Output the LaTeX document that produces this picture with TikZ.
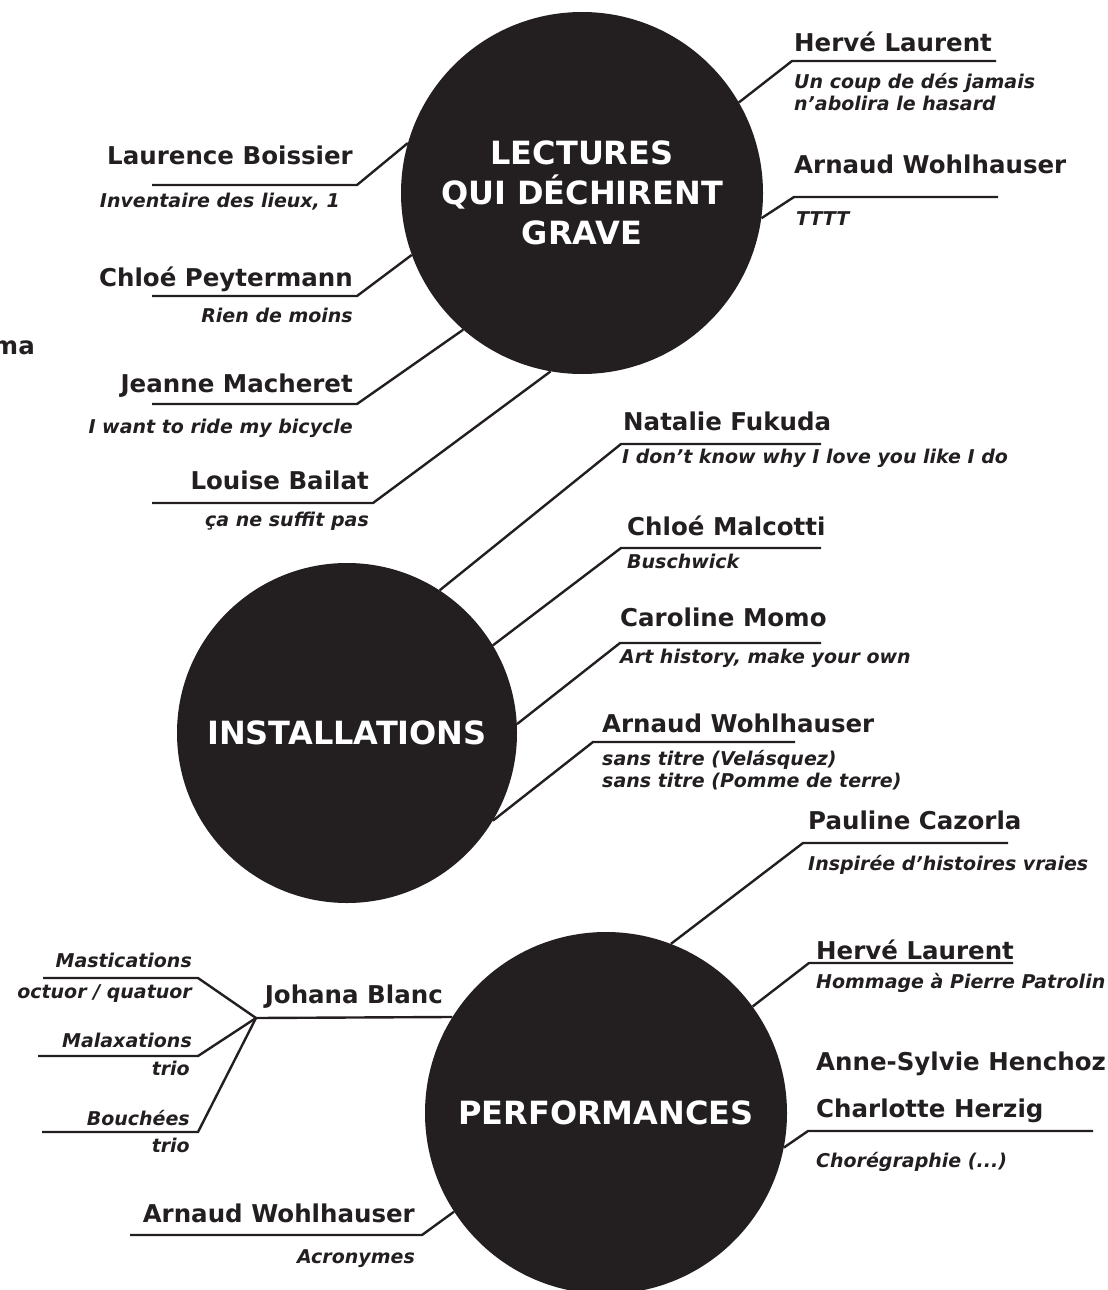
\documentclass[tikz,border=0pt]{standalone}
\usepackage{fontspec}
\setmainfont{DejaVu Sans}
\usetikzlibrary{positioning}
\definecolor{ink}{HTML}{231F20}

\begin{document}
\begin{tikzpicture}[x=1pt, y=-1pt,
  hub/.style={circle, fill=ink, text=white, inner sep=0pt, minimum size=#1,
    align=center, font=\bfseries\fontsize{32}{40}\selectfont},
  who/.style={text=ink, inner sep=0pt, font=\bfseries\fontsize{24.5}{28}\selectfont},
  what/.style={text=ink, inner sep=0pt, align=left,
    font=\bfseries\itshape\fontsize{19}{21.5}\selectfont},
  link/.style={draw=ink, line width=2.4pt}]
\useasboundingbox (0,0) rectangle (1108,1290);

\node[hub=362pt] (lect) at (582,193) {LECTURES\\QUI DÉCHIRENT\\GRAVE};
\node[hub=340pt] (inst) at (347,733) {INSTALLATIONS};
\node[hub=362pt] (perf) at (606,1113) {PERFORMANCES};

\node[who, anchor=base east] (ma) at (35,354) {ma};

\coordinate (lb0) at (152,185); \coordinate (lb1) at (357,185);
\draw[link] (lb0) -- (lb1) -- (lect.164.7);
\node[who, anchor=base east] (lb) at (353,164) {Laurence Boissier};
\node[what, anchor=base east] (lbt) at (340,207) {Inventaire des lieux, 1};

\coordinate (cp0) at (152,296); \coordinate (cp1) at (357,296);
\draw[link] (cp0) -- (cp1) -- (lect.200);
\node[who, anchor=base east] (cp) at (353,286) {Chloé Peytermann};
\node[what, anchor=base east] (cpt) at (353,322) {Rien de moins};

\coordinate (jm0) at (152,404); \coordinate (jm1) at (357,404);
\draw[link] (jm0) -- (jm1) -- (lect.229);
\node[who, anchor=base east] (jm) at (353,392) {Jeanne Macheret};
\node[what, anchor=base east] (jmt) at (353,433) {I want to ride my bicycle};

\coordinate (lo0) at (152,503); \coordinate (lo1) at (373,503);
\draw[link] (lo0) -- (lo1) -- (lect.260.8);
\node[who, anchor=base east] (lo) at (369,489) {Louise Bailat};
\node[what, anchor=base east] (lot) at (369,526) {ça ne suffit pas};

\coordinate (hl0) at (792,61); \coordinate (hl1) at (996,61);
\draw[link] (lect.30.5) -- (hl0) -- (hl1);
\node[who, anchor=base west] (hl) at (794,52) {Hervé Laurent};
\node[what, anchor=base west] (hlt) at (794,110) {Un coup de dés jamais\\n’abolira le hasard};

\coordinate (aw0) at (794,197); \coordinate (aw1) at (998,197);
\draw[link] (lect.-8.8) -- (aw0) -- (aw1);
\node[who, anchor=base west] (aw) at (794,173) {Arnaud Wohlhauser};
\node[what, anchor=base west] (awt) at (796,225) {TTTT};

\coordinate (nf0) at (621,444); \coordinate (nf1) at (821,444);
\draw[link] (inst.57.3) -- (nf0) -- (nf1);
\node[who, anchor=base west] (nf) at (623,430) {Natalie Fukuda};
\node[what, anchor=base west] (nft) at (622,463) {I don’t know why I love you like I do};

\coordinate (cm0) at (621,548); \coordinate (cm1) at (821,548);
\draw[link] (inst.31.7) -- (cm0) -- (cm1);
\node[who, anchor=base west] (cm) at (627,535) {Chloé Malcotti};
\node[what, anchor=base west] (cmt) at (627,568) {Buschwick};

\coordinate (cr0) at (620,643); \coordinate (cr1) at (821,643);
\draw[link] (inst.3.7) -- (cr0) -- (cr1);
\node[who, anchor=base west] (cr) at (620,626) {Caroline Momo};
\node[what, anchor=base west] (crt) at (620,663) {Art history, make your own};

\coordinate (ai0) at (593,742); \coordinate (ai1) at (795,742);
\draw[link] (inst.-31.9) -- (ai0) -- (ai1);
\node[who, anchor=base west] (ai) at (602,732) {Arnaud Wohlhauser};
\node[what, anchor=base west] (ait) at (602,787) {sans titre (Velásquez)\\sans titre (Pomme de terre)};

\coordinate (pc0) at (803,843); \coordinate (pc1) at (1008,843);
\draw[link] (perf.69.7) -- (pc0) -- (pc1);
\node[who, anchor=base west] (pc) at (808,829) {Pauline Cazorla};
\node[what, anchor=base west] (pct) at (808,870) {Inspirée d’histoires vraies};

\coordinate (hp0) at (809,963); \coordinate (hp1) at (1013,963);
\draw[link] (perf.36.8) -- (hp0) -- (hp1);
\node[who, anchor=base west] (hp) at (816,959) {Hervé Laurent};
\node[what, anchor=base west] (hpt) at (816,988) {Hommage à Pierre Patrolin};

\node[who, anchor=base west] (as) at (816,1070) {Anne-Sylvie Henchoz};

\coordinate (ch0) at (808,1131); \coordinate (ch1) at (1093,1131);
\draw[link] (perf.-11.1) -- (ch0) -- (ch1);
\node[who, anchor=base west] (ch) at (816,1117) {Charlotte Herzig};
\node[what, anchor=base west] (cht) at (816,1167) {Chorégraphie (...)};

\coordinate (jb0) at (256,1018);
\draw[link] (jb0) -- (perf.148.6);
\node[who, anchor=base east] (jb) at (443,1003) {Johana Blanc};

\coordinate (ms0) at (43,978); \coordinate (ms1) at (198,978);
\draw[link] (ms0) -- (ms1) -- (jb0);
\node[what, anchor=base east] (ms) at (192,967) {Mastications};
\node[what, anchor=base east] (mst) at (192,998) {octuor / quatuor};

\coordinate (mx0) at (38,1056); \coordinate (mx1) at (198,1056);
\draw[link] (mx0) -- (mx1) -- (jb0);
\node[what, anchor=base east] (mx) at (192,1047) {Malaxations};
\node[what, anchor=base east] (mxt) at (190,1075) {trio};

\coordinate (bo0) at (42,1132); \coordinate (bo1) at (198,1132);
\draw[link] (bo0) -- (bo1) -- (jb0);
\node[what, anchor=base east] (bo) at (190,1125) {Bouchées};
\node[what, anchor=base east] (bot) at (190,1152) {trio};

\coordinate (ap0) at (130,1235); \coordinate (ap1) at (422,1235);
\draw[link] (ap0) -- (ap1) -- (perf.213.5);
\node[who, anchor=base east] (ap) at (415,1222) {Arnaud Wohlhauser};
\node[what, anchor=base east] (apt) at (415,1263) {Acronymes};
\end{tikzpicture}
\end{document}
